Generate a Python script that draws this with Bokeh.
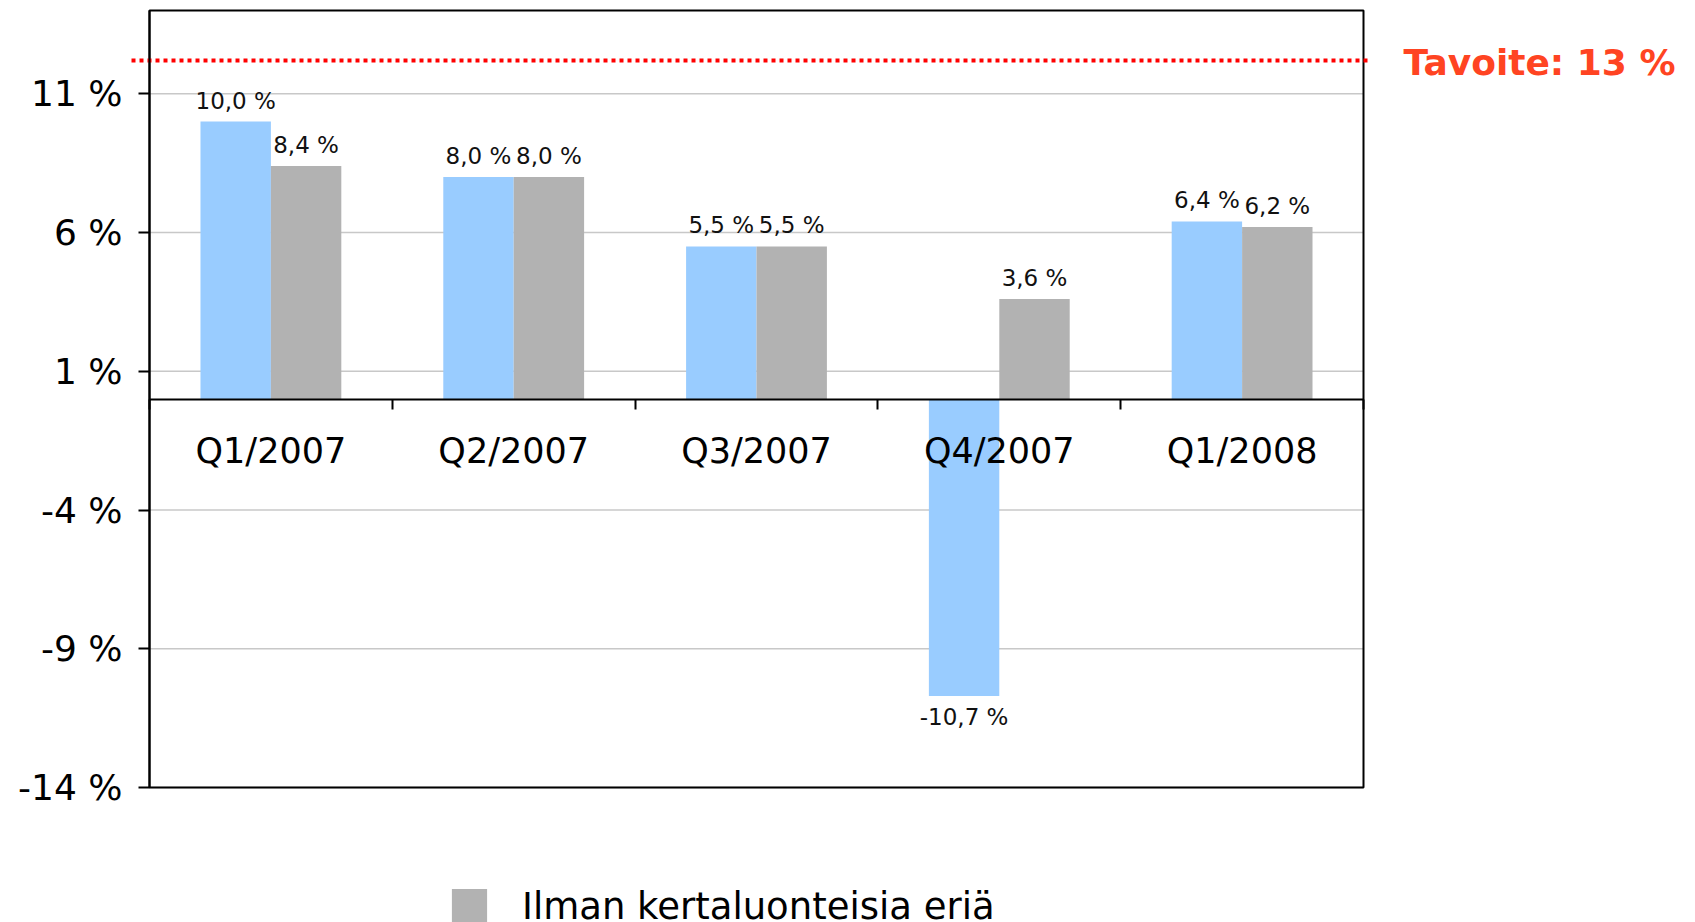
from bokeh.plotting import figure
from bokeh.models import (Range1d, FixedTicker, PrintfTickFormatter, Legend,
                          LegendItem, ColumnDataSource, Label)
from bokeh.core.properties import value
from bokeh.embed import file_html
from bokeh.resources import INLINE

# ---- data ----
quarters = ["Q1/2007", "Q2/2007", "Q3/2007", "Q4/2007", "Q1/2008"]
reported = [10.0, 8.0, 5.5, -10.7, 6.4]
excl_one_off = [8.4, 8.0, 5.5, 3.6, 6.2]
y_ticks = [-14, -9, -4, 1, 6, 11]
y_min, y_max = -14, 14
target_label = "Tavoite: 13 %"
target_line = 12.2
legend_label = "Ilman kertaluonteisia eriä"

# ---- style / layout (pixels) ----
FONT = "DejaVu Sans"
BLUE = "#99CCFF"
GRAY = "#B2B2B2"
W, H = 1695, 922
BOX_LEFT, BOX_TOP = 149, 10          # plot box position on the canvas
BOX_W, BOX_H = 1214, 777             # plot box size

n = len(quarters)
px_x = BOX_W / n                     # pixels per category
px_y = BOX_H / (y_max - y_min)       # pixels per percent
x0 = 0.5 - BOX_LEFT / px_x
x1 = x0 + W / px_x
ytop = y_max + BOX_TOP / px_y
ybot = ytop - H / px_y

idx = list(range(1, n + 1))
bar_w = 0.29
half = bar_w / 2


def fmt(v):
    return f"{v:.1f}".replace(".", ",") + " %"


p = figure(width=W, height=H, x_range=Range1d(x0, x1), y_range=Range1d(ybot, ytop),
           output_backend="svg", toolbar_location=None,
           min_border_left=0, min_border_right=0, min_border_top=0, min_border_bottom=0,
           background_fill_color="white", border_fill_color="white")
p.outline_line_color = None
p.xgrid.visible = False
p.ygrid.visible = False

# horizontal grid lines inside the box
p.segment(x0=[0.5] * len(y_ticks), x1=[n + 0.5] * len(y_ticks), y0=y_ticks, y1=y_ticks,
          line_color="#C8C8C8", line_width=1.5)

blue_src = ColumnDataSource(dict(x=[i - half for i in idx], top=reported))
gray_src = ColumnDataSource(dict(x=[i + half for i in idx], top=excl_one_off))

p.vbar(x="x", top="top", bottom=0, width=bar_w, source=blue_src,
       fill_color=BLUE, line_color=None)
gray_r = p.vbar(x="x", top="top", bottom=0, width=bar_w, source=gray_src,
                fill_color=GRAY, line_color=None)

# plot box
p.quad(left=[0.5], right=[n + 0.5], bottom=[y_min], top=[y_max],
       fill_color=None, line_color="black", line_width=2)

# value labels
pos = dict(x=[], y=[], t=[])
neg = dict(x=[], y=[], t=[])
for xs, vals in (([i - half for i in idx], reported), ([i + half for i in idx], excl_one_off)):
    for xv, v in zip(xs, vals):
        d = pos if v >= 0 else neg
        d["x"].append(xv)
        d["y"].append(v)
        d["t"].append(fmt(v))

p.text(x="x", y="y", text="t", source=ColumnDataSource(pos), text_font=value(FONT),
       text_font_size="23px", text_align="center", text_baseline="alphabetic",
       y_offset=-21, text_color="#111111")
p.text(x="x", y="y", text="t", source=ColumnDataSource(neg), text_font=value(FONT),
       text_font_size="23px", text_align="center", text_baseline="alphabetic",
       y_offset=21, text_color="#111111")

# target line (dotted), a little wider than the box
p.segment(x0=[0.5 - 18 / px_x], x1=[n + 0.5 + 4 / px_x], y0=[target_line], y1=[target_line],
          line_color="#FF0000", line_width=4, line_dash="4 4")
p.add_layout(Label(x=n + 0.5, y=target_line, x_offset=40, y_offset=-2, text=target_label,
                   text_font=FONT, text_font_style="bold", text_font_size="36px",
                   text_color="#FF4422", text_baseline="middle"))

# x axis at zero
p.xaxis.fixed_location = 0
p.xaxis.bounds = (0.5, n + 0.5)
p.xaxis.ticker = FixedTicker(ticks=idx, minor_ticks=[i - 0.5 for i in idx] + [idx[-1] + 0.5])
p.xaxis.major_label_overrides = {i: q for i, q in zip(idx, quarters)}
p.xaxis.major_tick_out = 0
p.xaxis.major_tick_in = 0
p.xaxis.minor_tick_out = 10
p.xaxis.minor_tick_in = 0
p.xaxis.minor_tick_line_color = "black"
p.xaxis.minor_tick_line_width = 2
p.xaxis.axis_line_color = "black"
p.xaxis.axis_line_width = 2
p.xaxis.major_label_text_font = FONT
p.xaxis.major_label_text_font_size = "35px"
p.xaxis.major_label_text_color = "black"
p.xaxis.major_label_standoff = 22

# y axis on the box's left edge
p.yaxis.fixed_location = 0.5
p.yaxis.bounds = (y_min, y_max)
p.yaxis.ticker = FixedTicker(ticks=y_ticks, minor_ticks=[])
p.yaxis.formatter = PrintfTickFormatter(format="%d %%")
p.yaxis.major_tick_out = 11
p.yaxis.major_tick_in = 0
p.yaxis.major_tick_line_width = 2
p.yaxis.major_tick_line_color = "black"
p.yaxis.minor_tick_line_color = None
p.yaxis.axis_line_color = "black"
p.yaxis.axis_line_width = 2
p.yaxis.major_label_standoff = 16
p.yaxis.major_label_text_font = FONT
p.yaxis.major_label_text_font_size = "36px"
p.yaxis.major_label_text_color = "black"

legend = Legend(items=[LegendItem(label=legend_label, renderers=[gray_r])],
                location=(447, -6), padding=0, margin=0, spacing=0,
                glyph_width=44, glyph_height=44, label_standoff=31, label_height=44,
                label_text_font=FONT, label_text_font_size="37px",
                label_text_color="black",
                border_line_alpha=0, background_fill_alpha=0)
p.add_layout(legend)

open("out.html", "w").write(file_html(p, INLINE))
